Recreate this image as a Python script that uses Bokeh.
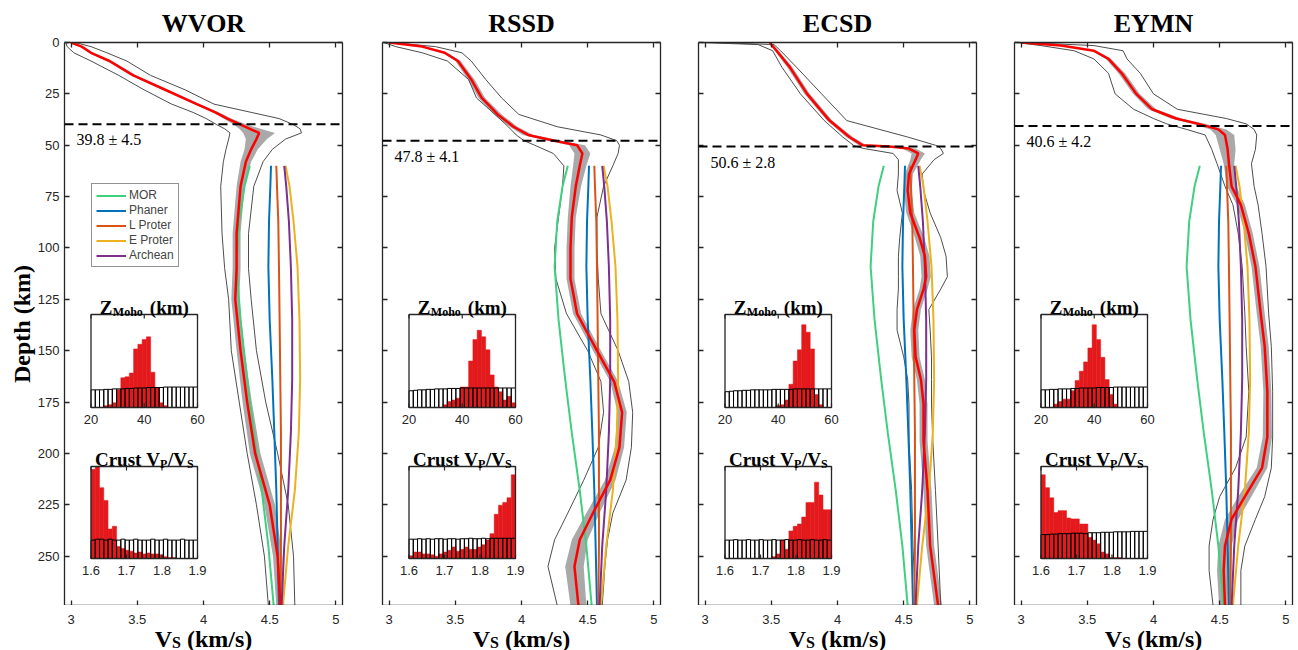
import numpy as np
from bokeh.plotting import figure
from bokeh.layouts import row, column
from bokeh.models import (Range1d, LinearAxis, FixedTicker, NumeralTickFormatter,
                          CustomJSTickFormatter, Span, Legend, LegendItem)
from bokeh.core.properties import value
from bokeh.embed import file_html
from bokeh.resources import INLINE

# ---------------------------------------------------------------- data
STATIONS = ["WVOR", "RSSD", "ECSD", "EYMN"]
MOHO_MEAN = [39.8, 47.8, 50.6, 40.6]
MOHO_STD = [4.5, 4.1, 2.8, 4.2]

# posterior Vs profiles: depth (km), mean Vs, half-width of the shaded band,
# and the two outer envelope curves (km/s)
wvor_depth = [0, 2, 5, 9, 16, 23, 30, 34, 37, 40, 42, 44, 47, 52, 58, 70, 93, 110, 125, 150, 175, 200, 225, 250, 274]
wvor_vs = [3.00, 3.08, 3.15, 3.29, 3.47, 3.71, 3.95, 4.09, 4.18, 4.28, 4.35, 4.42, 4.40, 4.36, 4.32, 4.28, 4.25, 4.25, 4.24, 4.28, 4.33, 4.39, 4.50, 4.56, 4.58]
wvor_hw = [0.01, 0.01, 0.015, 0.02, 0.02, 0.02, 0.02, 0.025, 0.03, 0.05, 0.08, 0.12, 0.08, 0.05, 0.04, 0.03, 0.03, 0.03, 0.03, 0.03, 0.035, 0.04, 0.04, 0.035, 0.03]
wvor_lo = [2.96, 2.97, 3.02, 3.15, 3.36, 3.55, 3.76, 3.92, 4.02, 4.10, 4.16, 4.20, 4.19, 4.17, 4.15, 4.13, 4.14, 4.16, 4.19, 4.21, 4.27, 4.33, 4.40, 4.46, 4.49]
wvor_hi = [3.03, 3.15, 3.27, 3.42, 3.60, 3.86, 4.08, 4.36, 4.57, 4.68, 4.73, 4.74, 4.62, 4.52, 4.45, 4.38, 4.34, 4.34, 4.36, 4.40, 4.47, 4.56, 4.64, 4.68, 4.69]

rssd_depth = [0, 2, 5, 9, 18, 27, 35, 41, 45, 47.8, 50, 54, 60, 70, 85, 100, 115, 132, 150, 165, 180, 197, 213, 229, 242, 255, 274]
rssd_vs = [3.00, 3.25, 3.42, 3.52, 3.62, 3.70, 3.82, 3.94, 4.05, 4.25, 4.42, 4.46, 4.44, 4.41, 4.38, 4.37, 4.37, 4.42, 4.57, 4.70, 4.76, 4.74, 4.67, 4.54, 4.44, 4.40, 4.43]
rssd_hw = [0.01, 0.02, 0.02, 0.02, 0.025, 0.025, 0.03, 0.03, 0.04, 0.05, 0.06, 0.06, 0.05, 0.04, 0.03, 0.03, 0.03, 0.03, 0.03, 0.03, 0.035, 0.035, 0.04, 0.05, 0.06, 0.07, 0.06]
rssd_lo = [2.96, 3.05, 3.25, 3.44, 3.60, 3.66, 3.80, 3.90, 3.96, 4.02, 4.10, 4.24, 4.32, 4.31, 4.28, 4.25, 4.26, 4.34, 4.50, 4.60, 4.62, 4.58, 4.47, 4.35, 4.25, 4.20, 4.27]
rssd_hi = [3.02, 3.35, 3.55, 3.62, 3.73, 3.85, 3.98, 4.27, 4.60, 4.72, 4.74, 4.73, 4.69, 4.62, 4.57, 4.57, 4.58, 4.60, 4.73, 4.81, 4.84, 4.83, 4.79, 4.69, 4.65, 4.63, 4.61]

ecsd_depth = [0, 1, 4, 12, 25, 38, 46, 50, 50.6, 51.6, 54, 57, 64, 72, 83, 95, 104, 114, 120, 130, 140, 153, 164, 176, 194, 218, 245, 274]
ecsd_vs = [3.49, 3.50, 3.54, 3.64, 3.77, 3.94, 4.09, 4.19, 4.39, 4.54, 4.61, 4.59, 4.54, 4.53, 4.55, 4.62, 4.66, 4.67, 4.65, 4.60, 4.58, 4.59, 4.63, 4.65, 4.65, 4.68, 4.70, 4.76]
ecsd_hw = [0.01, 0.01, 0.015, 0.02, 0.02, 0.02, 0.025, 0.03, 0.04, 0.05, 0.05, 0.04, 0.03, 0.03, 0.03, 0.035, 0.035, 0.035, 0.03, 0.03, 0.03, 0.03, 0.03, 0.03, 0.03, 0.03, 0.03, 0.03]
ecsd_lo = [2.96, 3.40, 3.51, 3.58, 3.72, 3.90, 4.04, 4.12, 4.14, 4.20, 4.42, 4.46, 4.46, 4.45, 4.49, 4.47, 4.46, 4.46, 4.46, 4.45, 4.45, 4.50, 4.53, 4.54, 4.54, 4.56, 4.57, 4.59]
ecsd_hi = [3.05, 3.52, 3.57, 3.69, 3.88, 4.07, 4.53, 4.74, 4.76, 4.78, 4.80, 4.73, 4.64, 4.65, 4.70, 4.78, 4.82, 4.83, 4.78, 4.69, 4.70, 4.71, 4.71, 4.71, 4.72, 4.74, 4.76, 4.78]

eymn_depth = [0, 1.5, 4, 8, 15, 25, 32.5, 37, 39.6, 42.3, 45, 52, 59, 70, 79, 93, 109, 132, 148, 170, 192, 207, 221, 232, 245, 257, 274]
eymn_vs = [3.00, 3.30, 3.55, 3.66, 3.76, 3.87, 3.99, 4.17, 4.34, 4.49, 4.54, 4.56, 4.57, 4.59, 4.66, 4.72, 4.77, 4.81, 4.84, 4.86, 4.86, 4.82, 4.69, 4.59, 4.54, 4.53, 4.54]
eymn_hw = [0.01, 0.015, 0.02, 0.02, 0.025, 0.025, 0.03, 0.04, 0.05, 0.06, 0.07, 0.06, 0.04, 0.035, 0.03, 0.03, 0.03, 0.03, 0.03, 0.03, 0.035, 0.04, 0.05, 0.05, 0.05, 0.05, 0.045]
eymn_lo = [2.97, 3.15, 3.40, 3.55, 3.66, 3.71, 3.85, 4.00, 4.10, 4.25, 4.39, 4.44, 4.48, 4.54, 4.60, 4.64, 4.67, 4.69, 4.70, 4.72, 4.70, 4.62, 4.50, 4.45, 4.42, 4.42, 4.45]
eymn_hi = [3.03, 3.55, 3.77, 3.80, 3.90, 4.00, 4.18, 4.55, 4.70, 4.76, 4.78, 4.77, 4.74, 4.76, 4.79, 4.82, 4.85, 4.87, 4.89, 4.90, 4.90, 4.89, 4.84, 4.77, 4.69, 4.66, 4.66]

# reference mantle models (Vs, km/s) below 60 km
ref_depth = [60, 70, 87, 109, 135, 164, 190, 218, 245, 274]
ref_mor = [4.35, 4.31, 4.27, 4.25, 4.28, 4.33, 4.38, 4.44, 4.49, 4.53]
ref_phaner = [4.51, 4.505, 4.495, 4.49, 4.50, 4.52, 4.535, 4.55, 4.56, 4.57]
ref_lproter = [4.55, 4.555, 4.565, 4.57, 4.575, 4.58, 4.585, 4.585, 4.585, 4.58]
ref_eproter = [4.62, 4.65, 4.68, 4.71, 4.725, 4.73, 4.72, 4.69, 4.64, 4.60]
ref_archean = [4.61, 4.625, 4.645, 4.66, 4.67, 4.67, 4.66, 4.64, 4.61, 4.59]
REF_NAMES = ["MOR", "Phaner", "L Proter", "E Proter", "Archean"]

# Moho depth histograms (25 bins, 20-60 km), heights scaled to the inset
zmoho_post = {
    "WVOR": [0, 0, 0, 0.02, 0.03, 0.05, 0.19, 0.32, 0.33, 0.37, 0.63, 0.68, 0.73, 0.76, 0.38, 0.21, 0.05, 0.02, 0, 0, 0, 0, 0, 0, 0],
    "RSSD": [0, 0, 0, 0, 0, 0, 0, 0, 0.03, 0.065, 0.08, 0.10, 0.22, 0.22, 0.50, 0.73, 0.83, 0.76, 0.62, 0.35, 0.22, 0.17, 0.08, 0.12, 0.05],
    "ECSD": [0, 0, 0, 0, 0, 0, 0, 0, 0, 0, 0, 0, 0.02, 0.03, 0.08, 0.25, 0.50, 0.62, 0.89, 0.81, 0.63, 0.14, 0.03, 0, 0],
    "EYMN": [0, 0, 0, 0.036, 0.064, 0.09, 0.09, 0.18, 0.29, 0.39, 0.49, 0.64, 0.89, 0.73, 0.54, 0.30, 0.14, 0.036, 0, 0, 0, 0, 0, 0, 0],
}
zmoho_prior = {
    "WVOR": [0.19, 0.19, 0.19, 0.195, 0.195, 0.20, 0.20, 0.20, 0.205, 0.205, 0.21, 0.21, 0.21, 0.215, 0.215, 0.215, 0.215, 0.22, 0.22, 0.22, 0.22, 0.22, 0.22, 0.22, 0.22],
    "RSSD": [0.18, 0.185, 0.19, 0.19, 0.195, 0.195, 0.20, 0.20, 0.20, 0.205, 0.205, 0.205, 0.21, 0.21, 0.21, 0.21, 0.21, 0.21, 0.21, 0.21, 0.21, 0.21, 0.21, 0.21, 0.21],
    "ECSD": [0.17, 0.175, 0.18, 0.18, 0.185, 0.185, 0.19, 0.19, 0.19, 0.19, 0.19, 0.195, 0.195, 0.195, 0.195, 0.195, 0.20, 0.20, 0.20, 0.20, 0.20, 0.20, 0.20, 0.20, 0.20],
    "EYMN": [0.19, 0.19, 0.195, 0.195, 0.20, 0.20, 0.20, 0.205, 0.205, 0.21, 0.21, 0.21, 0.21, 0.215, 0.215, 0.215, 0.215, 0.22, 0.22, 0.22, 0.22, 0.22, 0.22, 0.22, 0.22],
}
# crustal Vp/Vs histograms (25 bins, 1.6-1.9)
vpvs_post = {
    "WVOR": [0.97, 1.0, 0.77, 0.63, 0.32, 0.35, 0.13, 0.11, 0.09, 0.08, 0.06, 0.07, 0.05, 0.06, 0.05, 0.05, 0.04, 0.02, 0.01, 0.01, 0, 0, 0, 0, 0],
    "RSSD": [0.03, 0.07, 0.07, 0.05, 0.05, 0.04, 0.025, 0.05, 0.07, 0.09, 0.125, 0.08, 0.10, 0.125, 0.10, 0.10, 0.125, 0.15, 0.20, 0.27, 0.48, 0.58, 0.61, 0.66, 0.91],
    "ECSD": [0, 0, 0, 0, 0, 0, 0, 0, 0, 0, 0, 0.02, 0.05, 0.20, 0.10, 0.30, 0.35, 0.375, 0.45, 0.61, 0.61, 0.83, 0.69, 0.53, 0.53],
    "EYMN": [0.91, 0.77, 0.66, 0.50, 0.52, 0.52, 0.44, 0.43, 0.43, 0.375, 0.375, 0.23, 0.20, 0.16, 0.07, 0.05, 0.01, 0.01, 0.01, 0, 0, 0, 0, 0, 0],
}
vpvs_prior = {
    "WVOR": [0.20, 0.21, 0.21, 0.20, 0.21, 0.20, 0.20, 0.21, 0.20, 0.20, 0.21, 0.20, 0.20, 0.20, 0.21, 0.20, 0.20, 0.21, 0.20, 0.20, 0.20, 0.21, 0.20, 0.20, 0.20],
    "RSSD": [0.21, 0.21, 0.215, 0.21, 0.215, 0.21, 0.215, 0.215, 0.21, 0.215, 0.215, 0.21, 0.215, 0.215, 0.22, 0.215, 0.215, 0.22, 0.215, 0.22, 0.22, 0.22, 0.22, 0.22, 0.22],
    "ECSD": [0.20, 0.20, 0.205, 0.20, 0.20, 0.205, 0.20, 0.20, 0.205, 0.20, 0.20, 0.205, 0.20, 0.20, 0.205, 0.20, 0.20, 0.205, 0.20, 0.20, 0.205, 0.20, 0.20, 0.205, 0.20],
    "EYMN": [0.26, 0.26, 0.265, 0.265, 0.27, 0.27, 0.27, 0.275, 0.275, 0.275, 0.27, 0.28, 0.28, 0.28, 0.285, 0.285, 0.285, 0.29, 0.29, 0.29, 0.29, 0.295, 0.295, 0.295, 0.295],
}

VS_TICKS = [3, 3.5, 4, 4.5, 5]
VS_TICK_LABELS = ["3", "3.5", "4", "4.5", "5"]
DEPTH_TICKS = [0, 25, 50, 75, 100, 125, 150, 175, 200, 225, 250]
ZMOHO_TICKS = [20, 40, 60]
VPVS_TICKS = [1.6, 1.7, 1.8, 1.9]
ZMOHO_EDGES = np.linspace(20, 60, 26)
VPVS_EDGES = np.linspace(1.6, 1.9, 26)

PROFILES = {
    "WVOR": (wvor_depth, wvor_vs, wvor_hw, wvor_lo, wvor_hi),
    "RSSD": (rssd_depth, rssd_vs, rssd_hw, rssd_lo, rssd_hi),
    "ECSD": (ecsd_depth, ecsd_vs, ecsd_hw, ecsd_lo, ecsd_hi),
    "EYMN": (eymn_depth, eymn_vs, eymn_hw, eymn_lo, eymn_hi),
}
REFS = [ref_mor, ref_phaner, ref_lproter, ref_eproter, ref_archean]

# ---------------------------------------------------------------- style
SANS = "Liberation Sans"
SERIF = "Liberation Serif"
INK = "#262626"
REF_COLORS = ["#3fcf7f", "#0072bd", "#d95319", "#edb120", "#7e2f8e"]
BAND = "#a9a9a9"
ENVELOPE = "#4d4d4d"
POST_RED = "#e3191c"

FRAME_W, FRAME_H = 278, 563
TOP = 42
STRIP_H = 650 - TOP - FRAME_H      # strip under each panel: tick labels + Vs label
BORDERS = [(64, 20), (20, 18), (20, 18), (20, 6)]
X_RANGE = (2.95, 5.05)
DEPTH_MAX = 274

# inset placement inside each frame (pixels from frame left / top)
INSET_LEFT, INSET_RIGHT = 26.5, 133
ZM_TOP, ZM_BOTTOM = 272, 365
VR_TOP, VR_BOTTOM = 424, 516

# advance widths of Liberation Serif Bold (em units), for composing sub-scripted titles
EM = {"V": .722, "S": .556, " ": .25, "(": .333, "k": .556, "m": .833, "/": .278,
      "s": .389, ")": .333, "Z": .667, "M": .944, "o": .5, "h": .556, "C": .722,
      "r": .444, "u": .556, "t": .333, "P": .611}


def run_width(txt, size):
    return sum(EM[c] for c in txt) * size


def layout_runs(runs):
    """runs: list of (text, size, dy, gap_px); returns x offsets centred on 0."""
    total = sum(run_width(t, s) + g for t, s, _, g in runs)
    offs, x = [], -total / 2
    for t, s, _, g in runs:
        x += g
        offs.append(x)
        x += run_width(t, s)
    return offs


def make_axis(ticks, labelled):
    ax = LinearAxis(ticker=FixedTicker(ticks=ticks))
    if labelled:
        ax.formatter = NumeralTickFormatter(format="0.[0]")
        ax.major_label_standoff = 5
    else:
        ax.formatter = CustomJSTickFormatter(code="return ''")
        ax.major_label_standoff = 0
    ax.major_tick_in = 5
    ax.major_tick_out = 0
    ax.minor_tick_line_color = None
    ax.axis_line_color = INK
    ax.axis_line_width = 1.3
    ax.major_tick_line_color = INK
    ax.major_tick_line_width = 1.3
    ax.major_label_text_font = SANS
    ax.major_label_text_font_size = "13px"
    ax.major_label_text_color = INK
    return ax


def inset_ranges(p, key, d0, d1, top_px, bottom_px):
    sx = (INSET_RIGHT - INSET_LEFT) / (d1 - d0)
    xs = d0 - INSET_LEFT / sx
    p.extra_x_ranges[key + "_x"] = Range1d(xs, xs + FRAME_W / sx)
    sy = (bottom_px - top_px) / 1.0
    ys = 0 - (FRAME_H - bottom_px) / sy
    p.extra_y_ranges[key + "_y"] = Range1d(ys, ys + FRAME_H / sy)
    return sy


def add_inset(p, key, edges, post, prior, ticks, tick_labels, top_px, bottom_px, runs):
    d0, d1 = edges[0], edges[-1]
    hpx = inset_ranges(p, key, d0, d1, top_px, bottom_px)
    kw = dict(x_range_name=key + "_x", y_range_name=key + "_y")
    p.quad(left=[d0], right=[d1], bottom=[0], top=[1], fill_color="white",
           line_color=None, **kw)
    p.quad(left=edges[:-1], right=edges[1:], bottom=0, top=post,
           fill_color=POST_RED, line_color=POST_RED, line_width=0.5, **kw)
    p.quad(left=edges[:-1], right=edges[1:], bottom=0, top=prior,
           fill_alpha=0, line_color="black", line_width=1, **kw)
    p.quad(left=[d0], right=[d1], bottom=[0], top=[1], fill_alpha=0,
           line_color=INK, line_width=1.3, **kw)
    tl = 4 / hpx
    p.segment(x0=ticks, x1=ticks, y0=[0] * len(ticks), y1=[tl] * len(ticks),
              line_color=INK, line_width=1.2, **kw)
    p.segment(x0=ticks, x1=ticks, y0=[1] * len(ticks), y1=[1 - tl] * len(ticks),
              line_color=INK, line_width=1.2, **kw)
    p.text(x=ticks, y=[-7 / hpx] * len(ticks), text=tick_labels,
           text_font=value(SANS), text_font_size="13px", text_color=INK,
           text_align="center", text_baseline="top", **kw)
    mid = (d0 + d1) / 2
    for (t, s, dy, g), ox in zip(runs, layout_runs(runs)):
        p.text(x=[mid], y=[1 + 7 / hpx], text=[t], x_offset=ox, y_offset=dy,
               text_font=value(SERIF), text_font_style="bold",
               text_font_size=f"{s}px", text_color="black",
               text_align="left", text_baseline="alphabetic", **kw)


def make_panel(i):
    name = STATIONS[i]
    bl, br = BORDERS[i]
    p = figure(width=bl + FRAME_W + br, height=TOP + FRAME_H,
               x_range=Range1d(*X_RANGE), y_range=Range1d(DEPTH_MAX, 0),
               x_axis_type=None, y_axis_type=None,
               output_backend="svg", toolbar_location=None,
               min_border_left=bl, min_border_right=br,
               min_border_top=TOP, min_border_bottom=0)
    p.outline_line_color = None
    p.background_fill_color = "white"
    p.title.text = name
    p.title.align = "center"
    p.title.text_font = SERIF
    p.title.text_font_style = "bold"
    p.title.text_font_size = "26px"
    p.title.text_color = "black"
    p.title.standoff = 9

    p.add_layout(make_axis(VS_TICKS, False), "below")
    p.add_layout(make_axis(VS_TICKS, False), "above")
    left = make_axis(DEPTH_TICKS, i == 0)
    if i == 0:
        left.axis_label = "Depth (km)"
        left.axis_label_text_font = SERIF
        left.axis_label_text_font_style = "bold"
        left.axis_label_text_font_size = "24px"
        left.axis_label_text_color = "black"
        left.axis_label_standoff = 0
    p.add_layout(left, "left")
    p.add_layout(make_axis(DEPTH_TICKS, False), "right")

    depth, vs, hw, lo, hi = PROFILES[name]
    vs_a, hw_a = np.array(vs), np.array(hw)
    p.harea(x1=vs_a - hw_a, x2=vs_a + hw_a, y=depth, fill_color=BAND)
    p.line(x=lo, y=depth, line_color=ENVELOPE, line_width=1)
    p.line(x=hi, y=depth, line_color=ENVELOPE, line_width=1)

    ref_renderers = []
    for ref, col in zip(REFS, REF_COLORS):
        ref_renderers.append(p.line(x=ref, y=ref_depth, line_color=col, line_width=2))
    p.line(x=vs, y=depth, line_color="#ff0000", line_width=2.5)

    p.add_layout(Span(location=MOHO_MEAN[i], dimension="width", line_color="black",
                      line_width=2, line_dash="9 5"))
    p.text(x=[3.04], y=[MOHO_MEAN[i] + 3.5],
           text=[f"{MOHO_MEAN[i]:.1f} \u00b1 {MOHO_STD[i]:.1f}"],
           text_font=value(SERIF), text_font_size="16px", text_color="black",
           text_align="left", text_baseline="top")

    add_inset(p, "zm", ZMOHO_EDGES, zmoho_post[name], zmoho_prior[name],
              ZMOHO_TICKS, [str(t) for t in ZMOHO_TICKS], ZM_TOP, ZM_BOTTOM,
              [("Z", 19, 0, 0), ("Moho", 12, 4, 0.5), ("(km)", 19, 0, 7)])
    add_inset(p, "vr", VPVS_EDGES, vpvs_post[name], vpvs_prior[name],
              VPVS_TICKS, [f"{t:.1f}" for t in VPVS_TICKS], VR_TOP, VR_BOTTOM,
              [("Crust", 19, 0, 0), ("V", 19, 0, 5), ("P", 12, 4, 0), ("/", 19, 0, 0.5),
               ("V", 19, 0, 0), ("S", 12, 4, 0)])

    if i == 0:
        legend = Legend(items=[LegendItem(label=n, renderers=[r])
                               for n, r in zip(REF_NAMES, ref_renderers)],
                        location=(27, 338))
        legend.label_text_font = SANS
        legend.label_text_font_size = "12px"
        legend.label_height = 13
        legend.glyph_height = 13
        legend.glyph_width = 30
        legend.label_standoff = 3
        legend.spacing = 1
        legend.padding = 4
        legend.margin = 0
        legend.border_line_color = INK
        legend.border_line_width = 1
        legend.background_fill_alpha = 1
        p.add_layout(legend)

    # strip under the panel: Vs tick labels and the Vs axis label (with subscript)
    s = figure(width=bl + FRAME_W + br, height=STRIP_H,
               x_range=p.x_range, y_range=Range1d(STRIP_H, 0),
               x_axis_type=None, y_axis_type=None,
               output_backend="svg", toolbar_location=None,
               min_border_left=bl, min_border_right=br,
               min_border_top=0, min_border_bottom=0)
    s.outline_line_color = None
    s.grid.visible = False
    s.text(x=VS_TICKS, y=[9] * len(VS_TICKS), text=VS_TICK_LABELS,
           text_font=value(SANS), text_font_size="13px", text_color=INK,
           text_align="center", text_baseline="top")
    runs = [("V", 24, 0, 0), ("S", 16, 4, 0), ("(km/s)", 24, 0, 6)]
    for (t, sz, dy, g), ox in zip(runs, layout_runs(runs)):
        s.text(x=[4.0], y=[STRIP_H - 12], text=[t], x_offset=ox, y_offset=dy,
               text_font=value(SERIF), text_font_style="bold",
               text_font_size=f"{sz}px", text_color="black",
               text_align="left", text_baseline="alphabetic")
    return column(p, s, spacing=0)


panels = [make_panel(i) for i in range(4)]
layout = row(*panels, spacing=0)
open("out.html", "w").write(file_html(layout, INLINE))
